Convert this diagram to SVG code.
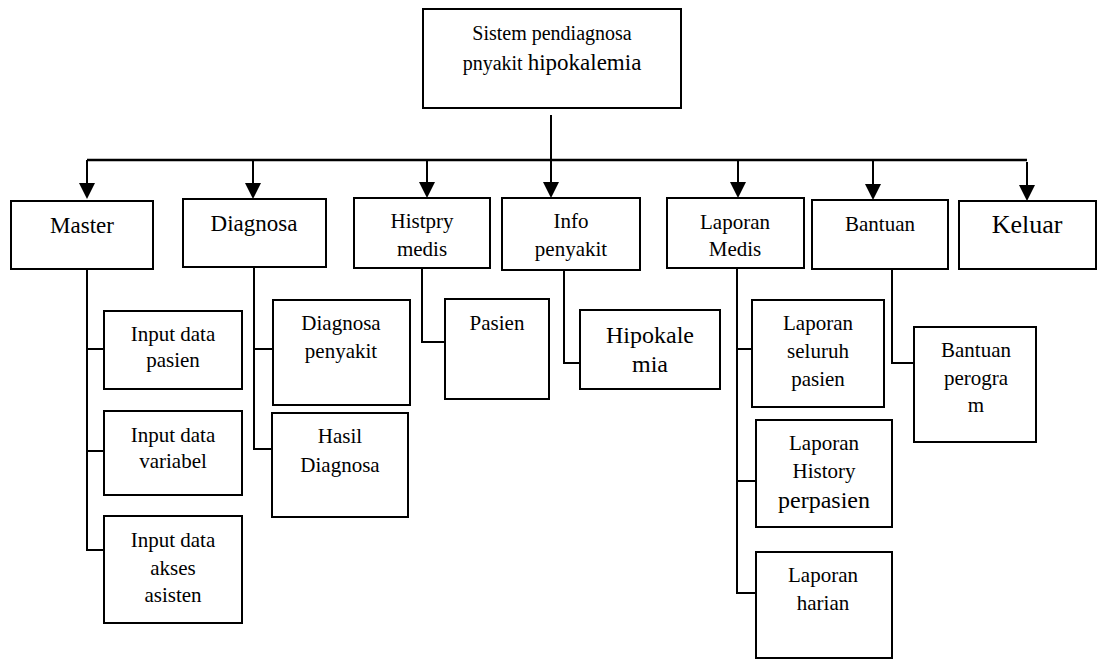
<svg xmlns="http://www.w3.org/2000/svg" width="1098" height="659" viewBox="0 0 1098 659" font-family="'Liberation Serif', 'DejaVu Serif', serif">
  <defs>
    <marker id="arrow" viewBox="0 0 16 16" refX="7" refY="8" markerWidth="16" markerHeight="16" markerUnits="userSpaceOnUse" orient="auto">
      <path d="M0,0 L16,8 L0,16 z" fill="#000"/>
    </marker>
    <style>
      .box { fill: #fff; stroke: #000; stroke-width: 2; }
      .wire { fill: none; stroke: #000; stroke-width: 2; }
      .bus { fill: none; stroke: #000; stroke-width: 2.5; }
      text { font-family: 'Liberation Serif', 'DejaVu Serif', serif; fill: #000; text-anchor: middle; }
      .t20 { font-size: 20px; }
      .t21 { font-size: 21px; }
      .t23 { font-size: 23px; }
      .t24 { font-size: 24px; }
      .t26 { font-size: 26px; }
    </style>
  </defs>
  <rect width="1098" height="659" fill="#fff"/>

  <!-- connectors -->
  <g id="connectors">
    <path class="wire" d="M551,115 V160"/>
    <path class="bus" d="M87,160 H1027"/>
    <path class="wire" d="M87,160 V190" marker-end="url(#arrow)"/>
    <path class="wire" d="M253,160 V190" marker-end="url(#arrow)"/>
    <path class="wire" d="M427,160 V189" marker-end="url(#arrow)"/>
    <path class="wire" d="M551,160 V189" marker-end="url(#arrow)"/>
    <path class="wire" d="M738,160 V189" marker-end="url(#arrow)"/>
    <path class="wire" d="M873,160 V191" marker-end="url(#arrow)"/>
    <path class="wire" d="M1027,162 V192" marker-end="url(#arrow)"/>
    <!-- Master branch -->
    <path class="wire" d="M87,269 V550 H104 M87,349 H104 M87,451 H104"/>
    <!-- Diagnosa branch -->
    <path class="wire" d="M254,267 V449 H272 M254,349 H273"/>
    <!-- Histpry medis branch -->
    <path class="wire" d="M422,268 V342 H445"/>
    <!-- Info penyakit branch -->
    <path class="wire" d="M564,270 V363 H580"/>
    <!-- Laporan Medis branch -->
    <path class="wire" d="M737,268 V593 H756 M737,349 H752 M737,481 H756"/>
    <!-- Bantuan branch -->
    <path class="wire" d="M892,269 V363 H914"/>
  </g>

  <!-- root -->
  <g id="root">
    <rect class="box" x="423" y="9" width="258" height="99"/>
    <text class="t20" x="552" y="40">Sistem pendiagnosa</text>
    <text x="552" y="70"><tspan class="t20">pnyakit </tspan><tspan class="t23">hipokalemia</tspan></text>
  </g>

  <!-- top-level menus -->
  <g id="master">
    <rect class="box" x="11" y="201" width="142" height="68"/>
    <text class="t23" x="82" y="233">Master</text>
  </g>
  <g id="diagnosa">
    <rect class="box" x="183" y="199" width="143" height="68"/>
    <text class="t23" x="254" y="231">Diagnosa</text>
  </g>
  <g id="histpry-medis">
    <rect class="box" x="354" y="198" width="136" height="70"/>
    <text class="t21" x="422" y="228">Histpry</text>
    <text class="t21" x="422" y="256">medis</text>
  </g>
  <g id="info-penyakit">
    <rect class="box" x="502" y="198" width="138" height="72"/>
    <text class="t21" x="571" y="228">Info</text>
    <text class="t21" x="571" y="256">penyakit</text>
  </g>
  <g id="laporan-medis">
    <rect class="box" x="667" y="198" width="137" height="70"/>
    <text class="t21" x="735" y="229">Laporan</text>
    <text class="t21" x="735" y="256">Medis</text>
  </g>
  <g id="bantuan">
    <rect class="box" x="812" y="200" width="136" height="69"/>
    <text class="t21" x="880" y="231">Bantuan</text>
  </g>
  <g id="keluar">
    <rect class="box" x="959" y="201" width="137" height="68"/>
    <text class="t26" x="1027" y="233">Keluar</text>
  </g>

  <!-- Master children -->
  <g id="input-data-pasien">
    <rect class="box" x="104" y="311" width="138" height="78"/>
    <text class="t21" x="173" y="341">Input data</text>
    <text class="t21" x="173" y="367">pasien</text>
  </g>
  <g id="input-data-variabel">
    <rect class="box" x="104" y="411" width="138" height="84"/>
    <text class="t21" x="173" y="442">Input data</text>
    <text class="t21" x="173" y="468">variabel</text>
  </g>
  <g id="input-data-akses-asisten">
    <rect class="box" x="104" y="516" width="138" height="107"/>
    <text class="t21" x="173" y="547">Input data</text>
    <text class="t21" x="173" y="575">akses</text>
    <text class="t21" x="173" y="602">asisten</text>
  </g>

  <!-- Diagnosa children -->
  <g id="diagnosa-penyakit">
    <rect class="box" x="273" y="300" width="137" height="105"/>
    <text class="t21" x="341" y="330">Diagnosa</text>
    <text class="t21" x="341" y="358">penyakit</text>
  </g>
  <g id="hasil-diagnosa">
    <rect class="box" x="272" y="413" width="136" height="104"/>
    <text class="t21" x="340" y="443">Hasil</text>
    <text class="t21" x="340" y="472">Diagnosa</text>
  </g>

  <!-- Histpry medis child -->
  <g id="pasien">
    <rect class="box" x="445" y="299" width="104" height="100"/>
    <text class="t21" x="497" y="330">Pasien</text>
  </g>

  <!-- Info penyakit child -->
  <g id="hipokalemia">
    <rect class="box" x="580" y="310" width="140" height="79"/>
    <text class="t24" x="650" y="343">Hipokale</text>
    <text class="t24" x="650" y="372">mia</text>
  </g>

  <!-- Laporan Medis children -->
  <g id="laporan-seluruh-pasien">
    <rect class="box" x="752" y="300" width="132" height="107"/>
    <text class="t21" x="818" y="330">Laporan</text>
    <text class="t21" x="818" y="358">seluruh</text>
    <text class="t21" x="818" y="386">pasien</text>
  </g>
  <g id="laporan-history-perpasien">
    <rect class="box" x="756" y="420" width="136" height="107"/>
    <text class="t21" x="824" y="450">Laporan</text>
    <text class="t21" x="824" y="478">History</text>
    <text class="t24" x="824" y="508">perpasien</text>
  </g>
  <g id="laporan-harian">
    <rect class="box" x="756" y="552" width="136" height="106"/>
    <text class="t21" x="823" y="582">Laporan</text>
    <text class="t21" x="823" y="610">harian</text>
  </g>

  <!-- Bantuan child -->
  <g id="bantuan-perogram">
    <rect class="box" x="914" y="327" width="122" height="115"/>
    <text class="t21" x="976" y="357">Bantuan</text>
    <text class="t21" x="976" y="385">perogra</text>
    <text class="t21" x="976" y="412">m</text>
  </g>
</svg>
